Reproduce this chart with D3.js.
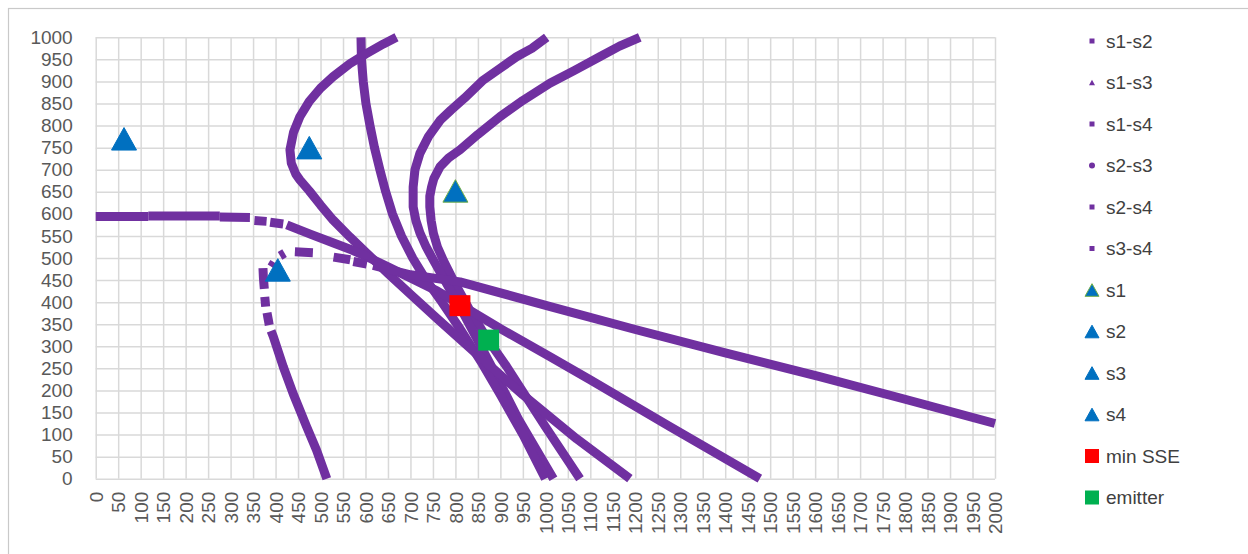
<!DOCTYPE html>
<html>
<head>
<meta charset="utf-8">
<script src="https://cdn.jsdelivr.net/npm/d3@7"></script>
<style>
  body { margin: 0; background: #fff; }
  svg text { font-family: "Liberation Sans", "DejaVu Sans", sans-serif; }
  .grid line { stroke: #d9d9d9; stroke-width: 1.5; }
  .grid path { display: none; }
  .tick-label text { fill: #595959; font-size: 19px; }
  .pair { fill: none; stroke: #7030A0; stroke-width: 9; stroke-linejoin: round; }
</style>
</head>
<body>
<svg id="chart" width="1248" height="554"></svg>
<script>
// axis ticks
const xTicks = [0, 50, 100, 150, 200, 250, 300, 350, 400, 450, 500, 550, 600, 650, 700, 750, 800, 850, 900, 950,
  1000, 1050, 1100, 1150, 1200, 1250, 1300, 1350, 1400, 1450, 1500, 1550, 1600, 1650, 1700, 1750, 1800, 1850, 1900, 1950, 2000];
const yTicks = [0, 50, 100, 150, 200, 250, 300, 350, 400, 450, 500, 550, 600, 650, 700, 750, 800, 850, 900, 950, 1000];

// hyperbola point runs (x, y); gaps where the points are sparse
const s1s2 = [
  [[1210, 1000], [1165, 980], [1121, 956], [1065, 925], [1010, 896], [950, 857], [899, 820], [850, 780], [810, 745],
   [785, 727], [766, 707], [752, 680], [747, 661], [743, 640], [743, 616], [746, 585], [751, 556], [760, 525],
   [773, 495], [795, 450], [830, 385], [870, 318], [914, 254], [1000, 118], [1077, 0]]
];
const s1s3 = [
  [[1003, 1000], [970, 975], [936, 956], [900, 930], [862, 903], [820, 862], [790, 835], [766, 812], [740, 775],
   [721, 737], [710, 700], [706, 661], [706, 616], [712, 585], [721, 557], [735, 525], [751, 495], [780, 443],
   [820, 370], [877, 261], [940, 135], [1018, 0]]
];
const s1s4 = [
  [[590, 1000], [591, 950], [595, 900], [601, 850], [610, 800], [620, 750], [632, 700], [645, 650], [660, 600],
   [680, 550], [705, 500], [735, 450], [770, 400], [810, 340], [860, 260], [900, 190], [950, 100], [1000, 0]]
];
const s2s3 = [
  [[669, 1000], [640, 985], [600, 962], [565, 940], [528, 911], [500, 885], [475, 855], [454, 820], [440, 785],
   [432, 745], [435, 715], [445, 690], [454, 677], [475, 652], [500, 620], [528, 586], [565, 548], [603, 511],
   [650, 465], [700, 418], [760, 362], [850, 280], [950, 190], [1070, 90], [1188, 0]]
];
const s2s4 = [
  [[0, 594], [117, 594]],
  [[117, 595], [276, 595]],
  [[276, 593], [343, 592]],
  [[353, 585], [380, 583]],
  [[388, 581], [417, 577]],
  [[425, 575], [480, 553], [529, 534], [570, 518], [603, 503], [650, 480], [700, 455], [760, 425], [810, 395],
   [900, 340], [1011, 276], [1100, 224], [1277, 118], [1477, 0]]
];
const s3s4 = [
  [[372, 477], [373, 455], [375, 430]],
  [[376, 412], [378, 390]],
  [[381, 376], [386, 348]],
  [[390, 335], [395, 322], [417, 254], [439, 193], [469, 118], [491, 65], [514, 0]],
  [[391, 480], [397, 490]],
  [[410, 505], [420, 511]],
  [[443, 514], [483, 512]],
  [[529, 502], [566, 496]],
  [[573, 492], [603, 486]],
  [[617, 483], [700, 462], [810, 446], [1011, 390], [1200, 338], [1400, 285], [1610, 231], [1800, 180], [2000, 125]]
];

// sensors and estimates
const s1 = [[800, 652]];
const s2 = [[475, 750]];
const s3 = [[63, 770]];
const s4 = [[405, 473]];
const minSSE = [[810, 392]];
const emitter = [[874, 314]];

const pairNames = ['s1-s2', 's1-s3', 's1-s4', 's2-s3', 's2-s4', 's3-s4'];
const pairRuns = [s1s2, s1s3, s1s4, s2s3, s2s4, s3s4];
const pointNames = ['s1', 's2', 's3', 's4', 'min SSE', 'emitter'];
const pointData = [s1, s2, s3, s4, minSSE, emitter];

const svg = d3.select('#chart');

// chart area border
svg.append('rect')
    .attr('x', 8.5).attr('y', 8.5)
    .attr('width', 1260).attr('height', 570)
    .attr('fill', '#fff')
    .attr('stroke', '#c9c9c9')
    .attr('stroke-width', 1.2);

const plot = {left: 95.7, right: 995, top: 37.3, bottom: 478.7};
const x = d3.scaleLinear().domain([0, 2000]).range([plot.left, plot.right]);
const y = d3.scaleLinear().domain([0, 1000]).range([plot.bottom, plot.top]);

// gridlines
svg.append('g')
    .attr('class', 'grid')
    .attr('transform', `translate(0,${plot.bottom})`)
    .call(d3.axisBottom(x).tickValues(xTicks).tickSize(-(plot.bottom - plot.top)).tickFormat(''));
svg.append('g')
    .attr('class', 'grid')
    .attr('transform', `translate(${plot.left},0)`)
    .call(d3.axisLeft(y).tickValues(yTicks).tickSize(-(plot.right - plot.left)).tickFormat(''));

// tick labels
const yAxis = svg.append('g')
    .attr('class', 'tick-label')
    .attr('transform', `translate(${plot.left},0)`)
    .call(d3.axisLeft(y).tickValues(yTicks).tickSize(0).tickPadding(23).tickFormat(d => d));
yAxis.select('.domain').remove();

const xAxis = svg.append('g')
    .attr('class', 'tick-label')
    .attr('transform', `translate(0,${plot.bottom})`)
    .call(d3.axisBottom(x).tickValues(xTicks).tickSize(0).tickFormat(d => d));
xAxis.select('.domain').remove();
xAxis.selectAll('text')
    .attr('transform', 'rotate(-90)')
    .attr('x', -13)
    .attr('y', 0)
    .attr('dy', '0.35em')
    .style('text-anchor', 'end');

// hyperbola series
const line = d3.line().x(d => x(d[0])).y(d => y(d[1]));
pairRuns.forEach((runs, i) => {
    const g = svg.append('g').attr('class', 'series').attr('data-name', pairNames[i]);
    runs.forEach(run => {
        g.append('path').attr('class', 'pair').attr('d', line(run));
    });
});

// point markers
const triPath = (w, h) => `M0,${-h / 2}L${w / 2},${h / 2}L${-w / 2},${h / 2}Z`;
const pointStyle = [
    {shape: 'tri', fill: '#0070C0', stroke: '#70AD47'},
    {shape: 'tri', fill: '#0070C0', stroke: '#0070C0'},
    {shape: 'tri', fill: '#0070C0', stroke: '#0070C0'},
    {shape: 'tri', fill: '#0070C0', stroke: '#0070C0'},
    {shape: 'sq', fill: '#FF0000', stroke: '#FF0000'},
    {shape: 'sq', fill: '#00B050', stroke: '#00B050'}
];

function drawMarker(g, st, size) {
    if (st.shape === 'tri') {
        g.append('path').attr('d', triPath(size, size * 0.9))
            .attr('fill', st.fill).attr('stroke', st.stroke).attr('stroke-width', 1);
    } else {
        g.append('rect')
            .attr('x', -size / 2).attr('y', -size / 2)
            .attr('width', size).attr('height', size)
            .attr('fill', st.fill);
    }
}

pointData.forEach((pts, i) => {
    pts.forEach(p => {
        const g = svg.append('g').attr('transform', `translate(${x(p[0])},${y(p[1])})`);
        drawMarker(g, pointStyle[i], pointStyle[i].shape === 'tri' ? 25 : 21);
    });
});

// legend
const legend = svg.append('g').attr('class', 'legend');
const legendNames = pairNames.concat(pointNames);
legendNames.forEach((name, i) => {
    const g = legend.append('g').attr('transform', `translate(1092,${41 + i * 41.5})`);
    if (i < 6) {
        if (name === 's1-s3') {
            g.append('path').attr('d', triPath(6, 5.5)).attr('fill', '#7030A0');
        } else if (name === 's2-s3') {
            g.append('circle').attr('r', 3).attr('fill', '#7030A0');
        } else {
            g.append('rect').attr('x', -2.5).attr('y', -2.5).attr('width', 5).attr('height', 5).attr('fill', '#7030A0');
        }
    } else {
        drawMarker(g, pointStyle[i - 6], 14);
    }
    g.append('text')
        .attr('x', 14)
        .attr('dy', '0.35em')
        .attr('fill', '#404040')
        .style('font-size', '19px')
        .text(name);
});
</script>
</body>
</html>
